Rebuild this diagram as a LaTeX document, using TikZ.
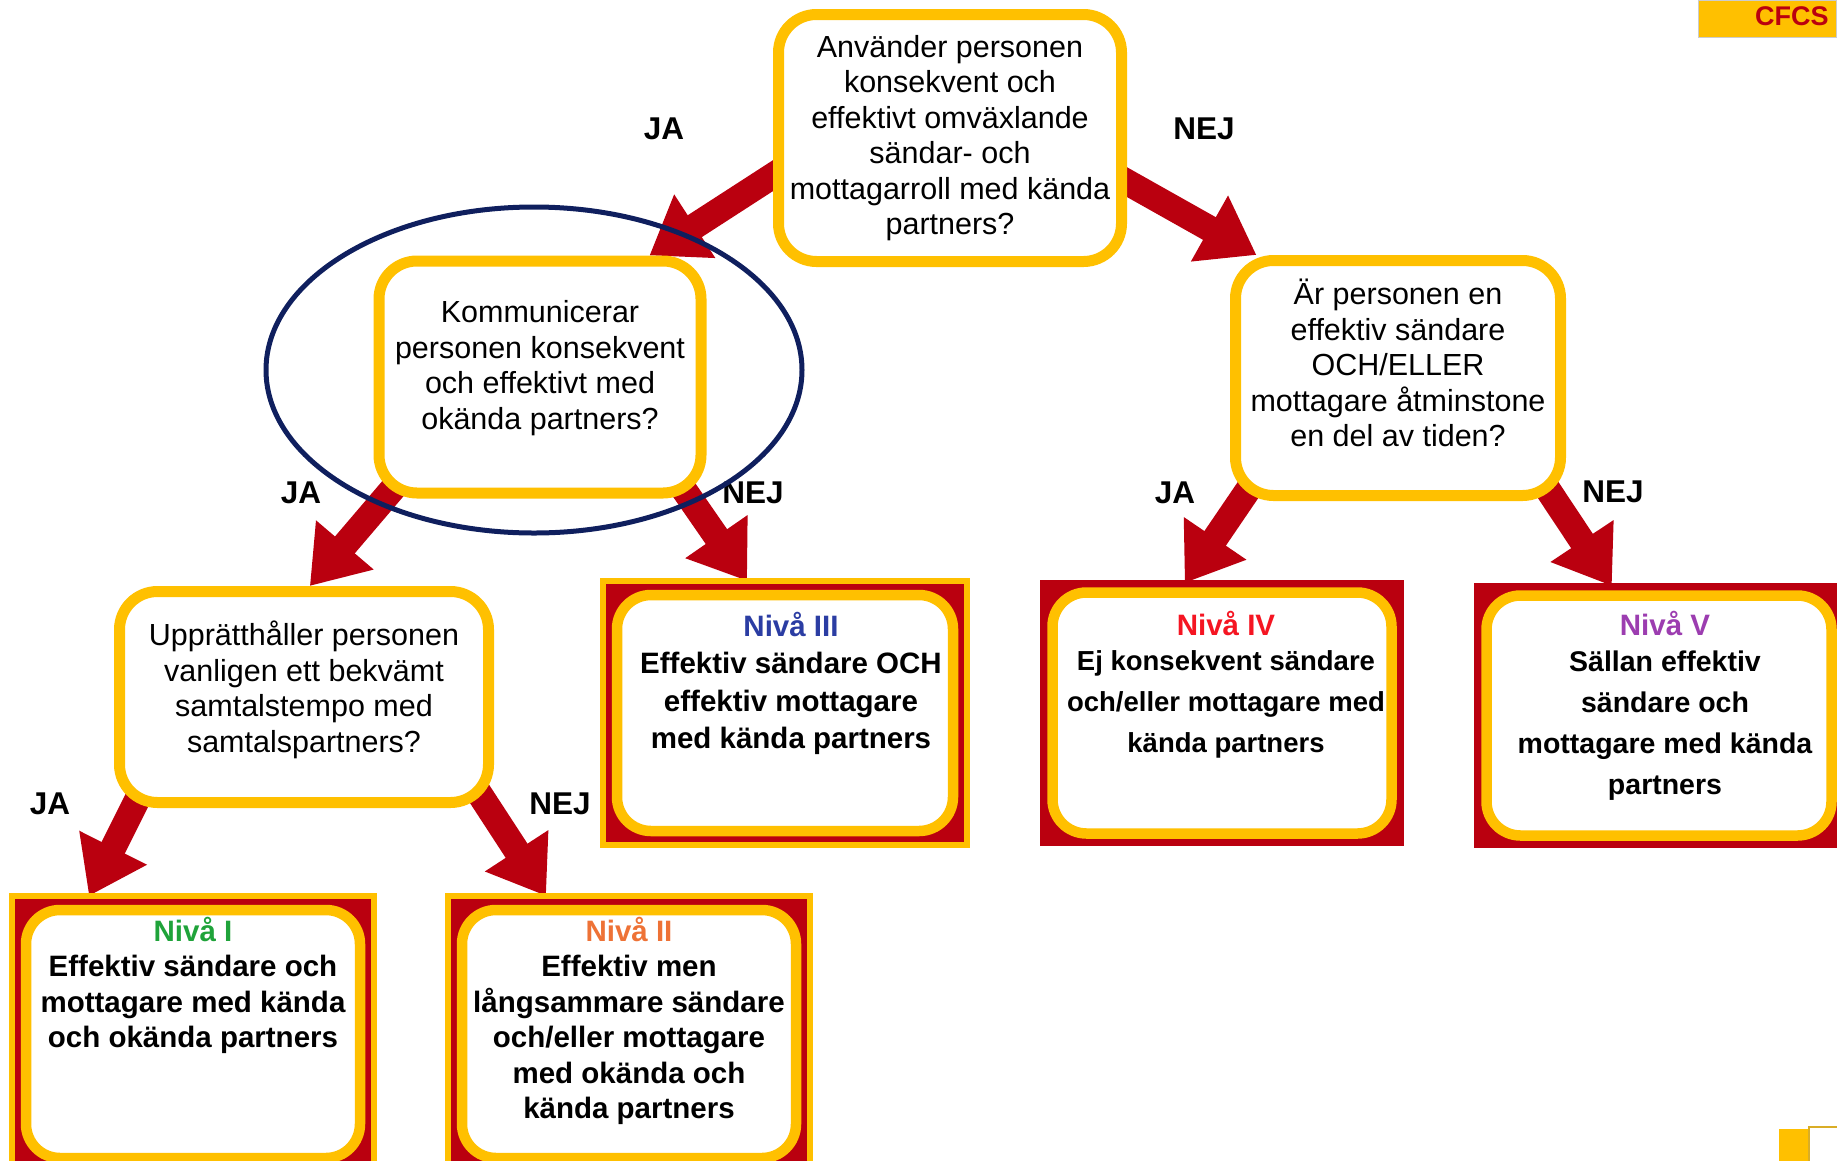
\documentclass[tikz,border=0pt]{standalone}
\usepackage{fontspec}
\setmainfont{Liberation Sans}
\usetikzlibrary{positioning,arrows.meta,backgrounds}

\definecolor{cfyellow}{HTML}{FFC000}
\definecolor{cfred}{HTML}{BA000F}
\definecolor{cfnavy}{HTML}{0F1F5E}
\definecolor{nivaI}{HTML}{1FA33A}
\definecolor{nivaII}{HTML}{EE7236}
\definecolor{nivaIII}{HTML}{2B3DA3}
\definecolor{nivaIV}{HTML}{F51522}
\definecolor{nivaV}{HTML}{9C3DB0}

% empty last line, lifts the text of a box
\newcommand{\liftby}[1]{\\[#1]\mbox{}}

\tikzset{
  question/.style={draw=cfyellow, line width=11pt, fill=white, rounded corners=38pt, align=center, inner sep=0pt, font=\fontsize{30.5}{35.5}\selectfont},
  result/.style={draw=cfyellow, line width=6pt, fill=cfred, inner sep=0pt, outer sep=0pt},
  resultred/.style={result, draw=cfred},
  resultin/.style={draw=cfyellow, line width=10.5pt, fill=white, rounded corners=34pt, inner sep=0pt},
  restext/.style={align=center, inner sep=0pt, font=\bfseries\fontsize{29.5}{36}\selectfont},
  answer/.style={font=\bfseries\fontsize{31.5}{36}\selectfont},
  bigarrow/.style={cfred, line width=26pt, -{Triangle[width=72pt,length=54pt]}, shorten <=-24pt}
}

\begin{document}
\begin{tikzpicture}[x=1pt, y=-1pt]
    \useasboundingbox (0,0) rectangle (1837,1160);

    % questions
    \node (q1) [question, minimum width=343pt, minimum height=247pt] at (950,138) {Använder personen\\konsekvent och\\effektivt omväxlande\\sändar- och\\mottagarroll med kända\\partners?};
    \node (q2) [question, minimum width=322pt, minimum height=232pt] at (540,377) {Kommunicerar\\personen konsekvent\\och effektivt med\\okända partners?\liftby{-11pt}};
    \node (q3) [question, minimum width=325pt, minimum height=235pt] at (1398,378) {Är personen en\\effektiv sändare\\OCH/ELLER\\mottagare åtminstone\\en del av tiden?\liftby{-5pt}};
    \node (q4) [question, minimum width=369pt, minimum height=211pt] at (304,697) {Upprätthåller personen\\vanligen ett bekvämt\\samtalstempo med\\samtalspartners?\liftby{-15pt}};

    % levels
    \node (r1) [result, minimum width=362pt, minimum height=276pt] at (193,1034) {};
    \node (r1in) [resultin, minimum width=334pt, minimum height=248pt] at (r1.center) {};
    \node (t1) [restext, below=21pt of r1.north, font=\bfseries\fontsize{29.5}{35.5}\selectfont] {{\color{nivaI}Nivå I}\\Effektiv sändare och\\mottagare med kända\\och okända partners};

    \node (r2) [result, minimum width=362pt, minimum height=276pt] at (629,1034) {};
    \node (r2in) [resultin, minimum width=334pt, minimum height=248pt] at (r2.center) {};
    \node (t2) [restext, below=21pt of r2.north, font=\bfseries\fontsize{29.5}{35.5}\selectfont] {{\color{nivaII}Nivå II}\\Effektiv men\\långsammare sändare\\och/eller mottagare\\med okända och\\kända partners};

    \node (r3) [result, minimum width=364pt, minimum height=264pt] at (785,713) {};
    \node (r3in) [resultin, minimum width=336pt, minimum height=236pt] at (r3.center) {};
    \node (t3) [restext, below=31pt of r3.north, xshift=6pt, font=\bfseries\fontsize{29.5}{37.5}\selectfont] {{\color{nivaIII}Nivå III}\\Effektiv sändare OCH\\effektiv mottagare\\med kända partners};

    \node (r4) [resultred, minimum width=358pt, minimum height=260pt] at (1222,713) {};
    \node (r4in) [resultin, minimum width=339pt, minimum height=241pt] at (r4.center) {};
    \node (t4) [restext, below=28pt of r4.north, xshift=4pt, font=\bfseries\fontsize{27.5}{41}\selectfont] {{\color{nivaIV}\fontsize{29.5}{41}\selectfont Nivå IV}\\[-6pt]Ej konsekvent sändare\\och/eller mottagare med\\kända partners};

    \node (r5) [resultred, minimum width=364pt, minimum height=259pt] at (1659,715.5) {};
    \node (r5in) [resultin, minimum width=345pt, minimum height=240pt] at (r5.center) {};
    \node (t5) [restext, below=25pt of r5.north, xshift=6pt, font=\bfseries\fontsize{28.5}{41}\selectfont] {{\color{nivaV}\fontsize{29.5}{41}\selectfont Nivå V}\\[-5pt]Sällan effektiv\\sändare och\\mottagare med kända\\partners};

    \begin{pgfonlayer}{background}
        \draw[bigarrow] (q1.192) -- (q2.48);
        \draw[bigarrow] (q1.346) -- (q3.139);
        \draw[bigarrow] (q2.218) -- (q4.87);
        \draw[bigarrow] (q2.321) -- (r3.106);
        \draw[bigarrow] (q3.218) -- (r4.106);
        \draw[bigarrow] (q3.322) -- (r5.110);
        \draw[bigarrow] (q4.213) -- (r1.127);
        \draw[bigarrow] (q4.329) -- (r2.121);
    \end{pgfonlayer}

    \node (ja1) [answer] at (664,129) {JA};
    \node (nej1) [answer] at (1204,129) {NEJ};
    \node (ja2) [answer] at (301,493) {JA};
    \node (nej2) [answer] at (753,493) {NEJ};
    \node (ja3) [answer] at (1175,493) {JA};
    \node (nej3) [answer] at (1613,492) {NEJ};
    \node (ja4) [answer] at (50,804) {JA};
    \node (nej4) [answer] at (560,804) {NEJ};

    \draw[cfnavy, line width=5pt] (534,370) ellipse [x radius=268, y radius=163];

    \node (logo) [fill=cfyellow, draw=black!20, line width=1pt, anchor=north east, text width=122pt, minimum height=37pt, inner xsep=8pt, inner ysep=0pt, text height=20pt, text depth=8pt, align=right, text=cfred, font=\bfseries\fontsize{27}{30}\selectfont] at (1837,0) {CFCS};
    \fill[cfyellow] (1779,1129) rectangle (1810,1165);
    \draw[cfyellow!70!gray, line width=2pt, fill=white] (1809,1127) rectangle (1840,1165);
\end{tikzpicture}
\end{document}
